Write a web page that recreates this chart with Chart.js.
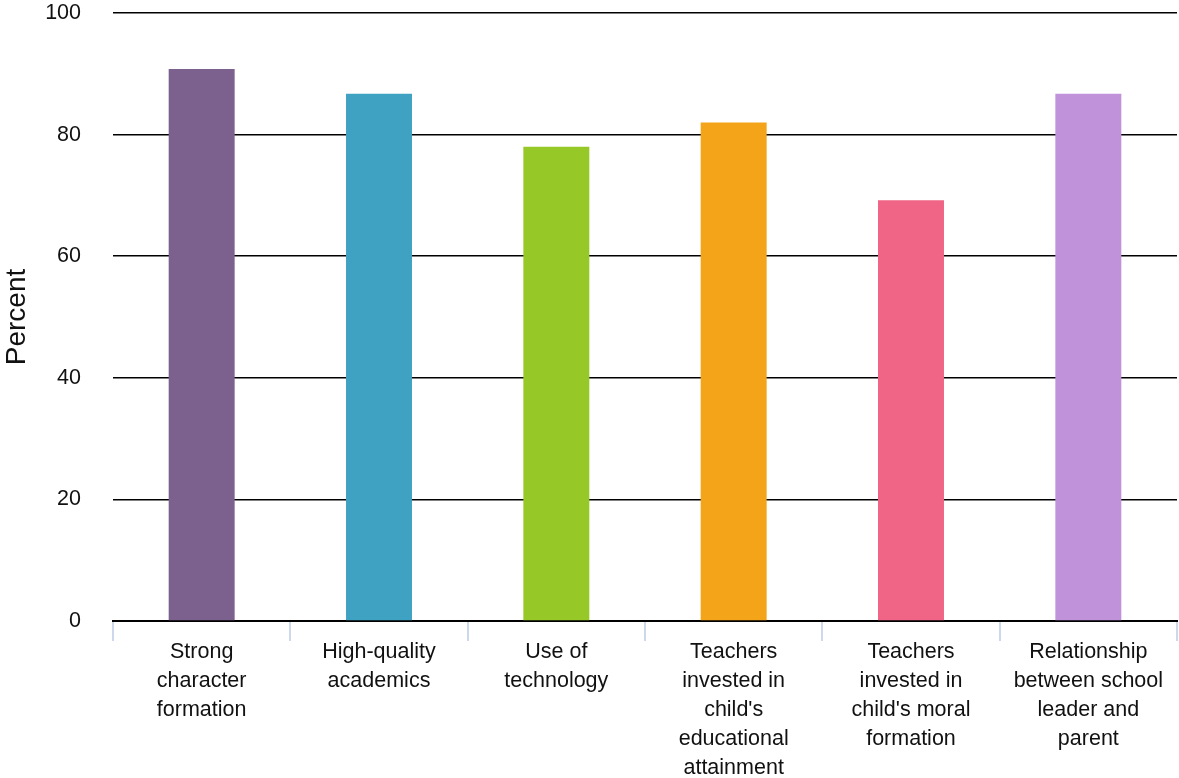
<!DOCTYPE html>
<html lang="en">
<head>
    <meta charset="UTF-8">
    <title>School features rated important</title>
    <script src="https://cdn.jsdelivr.net/npm/chart.js"></script>
    <style>
        html, body {
            margin: 0;
            padding: 0;
            background: #ffffff;
        }
        #chartBox {
            width: 1179px;
            height: 778px;
        }
    </style>
</head>
<body>
    <div id="chartBox">
        <canvas id="featureChart"></canvas>
    </div>

    <script>
        // Categories, one bar each (split into the wrapped lines shown under the axis)
        const categories = [
            ['Strong', 'character', 'formation'],
            ['High-quality', 'academics'],
            ['Use of', 'technology'],
            ['Teachers', 'invested in', "child's", 'educational', 'attainment'],
            ['Teachers', 'invested in', "child's moral", 'formation'],
            ['Relationship', 'between school', 'leader and', 'parent']
        ];
        const percentValues = [90.8, 86.7, 78, 82, 69.2, 86.7];
        const barColors = ['#7c618e', '#40a2c3', '#96c828', '#f4a419', '#f06486', '#c092da'];
        const yTicks = [0, 20, 40, 60, 80, 100];

        const ctx = document.getElementById('featureChart').getContext('2d');
        new Chart(ctx, {
            type: 'bar',
            data: {
                labels: categories,
                datasets: [{
                    label: 'Percent',
                    data: percentValues,
                    backgroundColor: barColors,
                    borderWidth: 0,
                    barPercentage: 0.372,
                    categoryPercentage: 1
                }]
            },
            options: {
                responsive: true,
                maintainAspectRatio: false,
                animation: false,
                layout: {
                    padding: { top: 0, right: 2, bottom: 0, left: 0 }
                },
                plugins: {
                    legend: { display: false },
                    tooltip: { enabled: false }
                },
                scales: {
                    x: {
                        afterFit: (scale) => {
                            scale.height = 157;
                        },
                        grid: {
                            offset: true,
                            drawOnChartArea: false,
                            color: '#cdd8ea',
                            lineWidth: 2,
                            tickLength: 20
                        },
                        border: { color: '#000000', width: 2 },
                        ticks: {
                            color: '#111111',
                            font: { family: 'Liberation Sans', size: 21.5, lineHeight: 1.34 },
                            padding: -3,
                            maxRotation: 0,
                            autoSkip: false
                        }
                    },
                    y: {
                        min: 0,
                        max: 100,
                        afterBuildTicks: (scale) => {
                            scale.ticks = yTicks.map(v => ({ value: v }));
                        },
                        afterFit: (scale) => {
                            // fixed gutter; keep the label gap from pushing the plot down
                            scale.width = 113;
                            scale.paddingTop = 13;
                            scale.paddingBottom = 0;
                        },
                        grid: {
                            color: '#000000',
                            lineWidth: 1.5,
                            drawTicks: false
                        },
                        border: { display: false },
                        ticks: {
                            color: '#111111',
                            font: { family: 'Liberation Sans', size: 21.5 },
                            padding: 32
                        },
                        title: {
                            display: true,
                            text: 'Percent',
                            color: '#111111',
                            font: { family: 'Liberation Sans', size: 28 },
                            padding: { top: 0, bottom: 0 }
                        }
                    }
                }
            }
        });
    </script>
</body>
</html>
